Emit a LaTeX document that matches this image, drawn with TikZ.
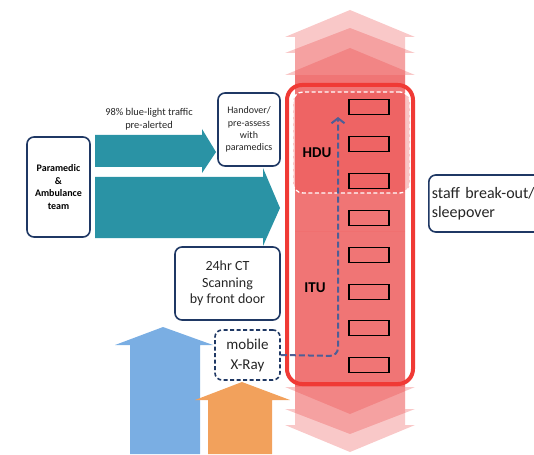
\documentclass[tikz,border=0pt]{standalone}
\usepackage{fontspec}
\setmainfont{Carlito}
\usetikzlibrary{arrows.meta}
\definecolor{navy}{HTML}{1F3864}
\definecolor{tealc}{HTML}{2A93A5}
\definecolor{redc}{HTML}{EA3B3B}
\definecolor{redline}{HTML}{F03A35}
\definecolor{bluea}{HTML}{7AAEE3}
\definecolor{orangea}{HTML}{F2A15C}
\definecolor{dashcol}{HTML}{4E5E96}
\definecolor{txt}{HTML}{262626}
\begin{document}
\begin{tikzpicture}[x=1pt,y=-1pt,
  box/.style={draw=navy, line width=1.6pt, rounded corners=7pt, fill=white, align=center, inner sep=1pt, text=txt},
  dbox/.style={box, dashed, dash pattern=on 4pt off 2.5pt},
  bed/.style={draw=black, line width=1.2pt, minimum width=40pt, minimum height=15pt, inner sep=0pt},
  unitlbl/.style={font=\fontsize{15}{17}\selectfont\bfseries, text=black, inner sep=0pt},
  colarrow/.style={fill=redc, fill opacity=0.28},
  flow/.style={fill=tealc}]
\useasboundingbox (0,0) rectangle (534,454);

% ---- upward patient-flow arrows (bottom) ----
\fill[bluea] (130,454) -- (130,345) -- (115,345) -- (163,327) -- (213,345) -- (200,345) -- (200,454) -- cycle;
\fill[orangea] (208,454) -- (208,400) -- (195,400) -- (242,382) -- (290,400) -- (272,400) -- (272,454) -- cycle;

% ---- red double-headed column ----
\fill[redc, fill opacity=0.2] (295,75) rectangle (405,387);
\foreach \t/\s in {10/37,28/53,48/75}{
  \fill[colarrow] (295,231) -- (295,\s) -- (285,\s) -- (350,\t) -- (415,\s) -- (405,\s) -- (405,231) -- cycle;
}
\foreach \t/\s in {452/425,434/409,414/387}{
  \fill[colarrow] (295,231) -- (295,\s) -- (285,\s) -- (350,\t) -- (415,\s) -- (405,\s) -- (405,231) -- cycle;
}

% ---- HDU zone ----
\node[draw=white, line width=1.3pt, dash pattern=on 4pt off 2.5pt, rounded corners=10pt,
      fill=redc, fill opacity=0.3, draw opacity=1, minimum width=117pt, minimum height=101pt, inner sep=0pt]
      (hdu) at (351.5,142.5) {};

% ---- unit outline ----
\node[draw=redline, line width=4pt, rounded corners=15pt, minimum width=126pt, minimum height=299pt, inner sep=0pt]
      (unit) at (350,234.5) {};

% ---- beds ----
\foreach \i/\y in {1/107,2/144,3/181,4/218,5/255,6/292,7/328,8/365}{
  \node[bed] (bed\i) at (369,\y) {};
}

\node[unitlbl] (hdulbl) at (317,153) {HDU};
\node[unitlbl] (itulbl) at (315,288) {ITU};

% ---- teal flow arrows ----
\fill[flow] (95,135) -- (202,135) -- (202,129) -- (216,152) -- (202,173) -- (202,167) -- (95,167) -- cycle;
\fill[flow] (95,177) -- (263,177) -- (263,168) -- (280,208) -- (263,246) -- (263,238) -- (95,238) -- cycle;

% ---- boxes ----
\node[box, font=\fontsize{10}{12.5}\selectfont\bfseries, text=black, minimum width=63pt, minimum height=100pt] (para) at (58.5,187)
  {Paramedic\\\&\\Ambulance\\team};
\node[box, font=\fontsize{10}{12.3}\selectfont, minimum width=62pt, minimum height=73pt] (handover) at (249,129.5)
  {Handover/\\pre-assess\\with\\paramedics};
\node[box, font=\fontsize{14}{16.5}\selectfont, minimum width=105pt, minimum height=73pt] (ct) at (227.5,283.5)
  {24hr CT\\Scanning\\by front door};
\node[dbox, font=\fontsize{15}{20}\selectfont, minimum width=65pt, minimum height=50pt] (xray) at (247.5,355)
  {mobile\\X-Ray};
\node[font=\fontsize{10.4}{13}\selectfont, text=txt, align=center, inner sep=0pt] (traffic) at (149,119)
  {98\% blue-light traffic\\pre-alerted};

\begin{scope}
\clip (0,0) rectangle (534,454);
\node[box, font=\fontsize{16}{18.5}\selectfont, align=left, anchor=west, text width=112pt, inner xsep=3pt,
      minimum width=118pt, minimum height=57pt] (staff) at (428,203.5)
  {staff break-out/\\sleepover};
\end{scope}

% ---- x-ray route into the unit ----
\coordinate (xraytarget) at (338,117);
\draw[dashcol, line width=2pt, dash pattern=on 6pt off 3pt, rounded corners=8pt,
      -{Straight Barb[length=5pt,width=13pt]}]
  (xray.east) -- (338,356) -- (xraytarget);

\end{tikzpicture}
\end{document}
